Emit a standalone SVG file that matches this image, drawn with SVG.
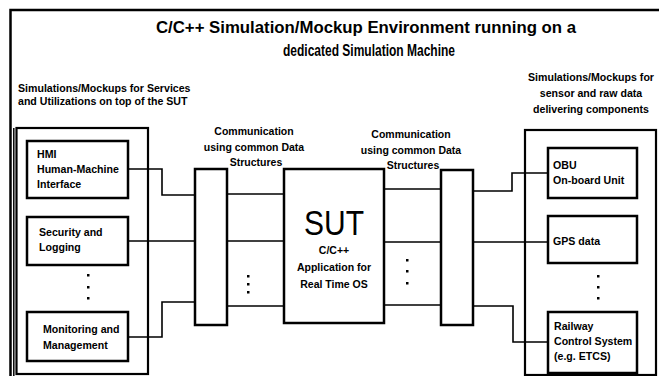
<svg xmlns="http://www.w3.org/2000/svg" width="659" height="376" viewBox="0 0 659 376">
<style>
.bg{fill:#ffffff}
.frame{fill:none;stroke:#000;stroke-width:2.5}
.box{fill:#fff;stroke:#000;stroke-width:2.5}
.grp{fill:none;stroke:#000;stroke-width:2.2}
.conn{fill:none;stroke:#000;stroke-width:1.6}
.dot{fill:#000}
text{font-family:"Liberation Sans",Arial,sans-serif;font-weight:bold;fill:#000}
.title{font-size:17px}
.lbl{font-size:10.6px}
.c{font-size:10.5px}
.t{font-size:10.6px}
.s{font-size:10.5px}
.sut{font-size:35px;font-weight:normal}
.mid{text-anchor:middle}
</style>
<rect class="bg" x="0" y="0" width="659" height="376"/>
<g id="frame">
  <rect class="frame" x="10.5" y="10" width="720" height="420"/>
  <line class="frame" x1="13.8" y1="128" x2="13.8" y2="380" style="stroke-width:1.5"/>
  <text class="title mid" x="366" y="33" textLength="420" lengthAdjust="spacingAndGlyphs">C/C++ Simulation/Mockup Environment running on a</text>
  <text class="title mid" x="369" y="56" textLength="172" lengthAdjust="spacingAndGlyphs">dedicated Simulation Machine</text>
</g>
<g id="left-group">
  <rect class="grp" x="16.5" y="128" width="131.5" height="246"/>
  <text class="lbl" x="18" y="92">Simulations/Mockups for Services</text>
  <text class="lbl" x="18" y="104.5">and Utilizations on top of the SUT</text>
  <rect class="dot" x="87" y="274" width="2.5" height="2.5"/>
  <rect class="dot" x="87" y="286" width="2.5" height="2.5"/>
  <rect class="dot" x="87" y="297" width="2.5" height="2.5"/>
</g>
<g id="hmi">
  <rect class="box" x="27" y="141" width="101" height="57"/>
  <text class="t" x="37" y="158">HMI</text>
  <text class="t" x="37" y="173">Human-Machine</text>
  <text class="t" x="37" y="188">Interface</text>
</g>
<g id="security">
  <rect class="box" x="27" y="217" width="101" height="48"/>
  <text class="t" x="39" y="236">Security and</text>
  <text class="t" x="39" y="251">Logging</text>
</g>
<g id="monitoring">
  <rect class="box" x="27" y="312" width="101" height="49"/>
  <text class="t" x="43" y="333">Monitoring and</text>
  <text class="t" x="43" y="349">Management</text>
</g>
<g id="left-bus">
  <rect class="box" x="195" y="169" width="32" height="156"/>
  <text class="c mid" x="254" y="135">Communication</text>
  <text class="c mid" x="254" y="151">using common Data</text>
  <text class="c mid" x="256" y="166">Structures</text>
</g>
<g id="sut">
  <rect class="box" x="284" y="169" width="100" height="154"/>
  <text class="sut mid" x="334" y="235" textLength="60" lengthAdjust="spacingAndGlyphs">SUT</text>
  <text class="s mid" x="334" y="253.5">C/C++</text>
  <text class="s mid" x="334" y="271">Application for</text>
  <text class="s mid" x="334" y="287.5">Real Time OS</text>
</g>
<g id="right-bus">
  <rect class="box" x="441" y="170" width="32" height="155"/>
  <text class="c mid" x="411" y="138">Communication</text>
  <text class="c mid" x="411" y="154">using common Data</text>
  <text class="c mid" x="413" y="169">Structures</text>
</g>
<g id="right-group">
  <rect class="grp" x="525" y="130" width="131" height="245"/>
  <text class="lbl mid" x="591" y="81">Simulations/Mockups for</text>
  <text class="lbl mid" x="591" y="97">sensor and raw data</text>
  <text class="lbl mid" x="591" y="113">delivering components</text>
  <rect class="dot" x="597" y="275" width="2.5" height="2.5"/>
  <rect class="dot" x="597" y="286" width="2.5" height="2.5"/>
  <rect class="dot" x="597" y="297" width="2.5" height="2.5"/>
</g>
<g id="obu">
  <rect class="box" x="548" y="148" width="89" height="50"/>
  <text class="t" x="553" y="169">OBU</text>
  <text class="t" x="553" y="184">On-board Unit</text>
</g>
<g id="gps">
  <rect class="box" x="548" y="216" width="89" height="47"/>
  <text class="t" x="553" y="245">GPS data</text>
</g>
<g id="railway">
  <rect class="box" x="548" y="312" width="89" height="61"/>
  <text class="t" x="554" y="330">Railway</text>
  <text class="t" x="554" y="345">Control System</text>
  <text class="t" x="554" y="360">(e.g. ETCS)</text>
</g>
<g id="connectors">
  <polyline class="conn" points="128,169 162,169 162,195 195,195"/>
  <line class="conn" x1="128" y1="241" x2="195" y2="241"/>
  <polyline class="conn" points="128,337 162,337 162,302 195,302"/>
  <line class="conn" x1="227" y1="194" x2="284" y2="194"/>
  <line class="conn" x1="227" y1="241" x2="284" y2="241"/>
  <line class="conn" x1="227" y1="306" x2="284" y2="306"/>
  <line class="conn" x1="384" y1="189" x2="441" y2="189"/>
  <line class="conn" x1="384" y1="242" x2="441" y2="242"/>
  <line class="conn" x1="384" y1="305" x2="441" y2="305"/>
  <polyline class="conn" points="473,191 512,191 512,173 548,173"/>
  <line class="conn" x1="473" y1="242" x2="548" y2="242"/>
  <polyline class="conn" points="473,306 513,306 513,342 548,342"/>
  <rect class="dot" x="247" y="275" width="2.5" height="2.5"/>
  <rect class="dot" x="247" y="283" width="2.5" height="2.5"/>
  <rect class="dot" x="247" y="291" width="2.5" height="2.5"/>
  <rect class="dot" x="406" y="259" width="2.5" height="2.5"/>
  <rect class="dot" x="406" y="270" width="2.5" height="2.5"/>
  <rect class="dot" x="406" y="282" width="2.5" height="2.5"/>
</g>
</svg>
